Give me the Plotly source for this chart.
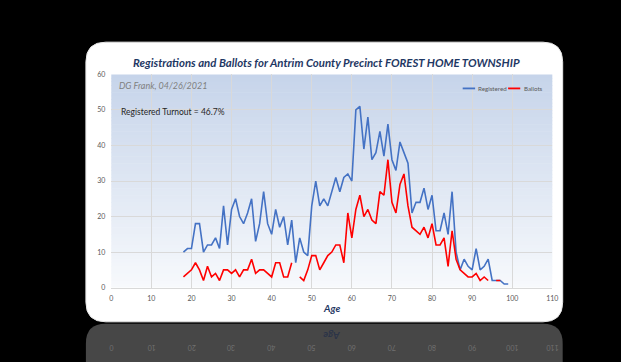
import plotly.graph_objects as go

# Age (years) and counts per age for the precinct
ages = list(range(18, 100))

registered = [10, 11, 11, 18, 18, 10, 12, 12, 14, 11,   # 18-27
              23, 12, 22, 25, 20, 18, 21, 25, 13, 18,   # 28-37
              27, 18, 15, 22, 17, 20, 12, 19, 7, 14,    # 38-47
              10, 9, 23, 30, 23, 25, 23, 27, 31, 27,    # 48-57
              31, 32, 30, 50, 51, 39, 48, 36, 38, 44,   # 58-67
              37, 46, 36, 33, 41, 38, 35, 21, 24, 24,   # 68-77
              28, 22, 26, 16, 16, 21, 15, 27, 10, 5,    # 78-87
              8, 6, 5, 11, 5, 6, 8, 2, 2, 2,            # 88-97
              1, 1]                                     # 98-99

ballots = [3, 4, 5, 7, 5, 2, 6, 3, 4, 2,                # 18-27
           5, 5, 4, 5, 3, 5, 5, 8, 4, 5,                # 28-37
           5, 4, 3, 7, 7, 3, 3, 7, None, 3,             # 38-47
           2, 5, 9, 9, 5, 7, 9, 10, 12, 12,             # 48-57
           7, 21, 14, 22, 26, 20, 22, 19, 18, 27,       # 58-67
           26, 36, 24, 21, 29, 32, 23, 17, 16, 15,      # 68-77
           17, 14, 18, 12, 12, 14, 6, 16, 8, 5,         # 78-87
           4, 3, 3, 4, 2, 3, 2, None, 2, 2,             # 88-97
           None, None]                                  # 98-99

x_ticks = list(range(0, 111, 10))
y_ticks = list(range(0, 61, 10))

title_text = "Registrations and Ballots for Antrim County Precinct FOREST HOME TOWNSHIP"
author_text = "DG Frank, 04/26/2021"
turnout_text = "Registered Turnout = 46.7%"

W, H = 621, 362
FONT = "Lato, 'Open Sans', sans-serif"
BLUE = "#4472c4"
RED = "#ff0000"
NAVY = "#1f3864"
TICK_GRAY = "#595959"


def px(x):
    return x / W


def py(y):
    return 1 - y / H


def rounded_path(x0, y0, x1, y1, r, bottom_round=True):
    """Rounded rectangle in paper coordinates from pixel bounds."""
    p = [f"M {px(x0 + r)} {py(y0)}",
         f"L {px(x1 - r)} {py(y0)}",
         f"Q {px(x1)} {py(y0)} {px(x1)} {py(y0 + r)}"]
    if bottom_round:
        p += [f"L {px(x1)} {py(y1 - r)}",
              f"Q {px(x1)} {py(y1)} {px(x1 - r)} {py(y1)}",
              f"L {px(x0 + r)} {py(y1)}",
              f"Q {px(x0)} {py(y1)} {px(x0)} {py(y1 - r)}"]
    else:
        p += [f"L {px(x1)} {py(y1)}", f"L {px(x0)} {py(y1)}"]
    p += [f"L {px(x0)} {py(y0 + r)}",
          f"Q {px(x0)} {py(y0)} {px(x0 + r)} {py(y0)}", "Z"]
    return " ".join(p)


# plot-area bounds in pixels
PL, PR, PT, PB = 110.7, 557.5, 71.0, 289.0
CARD = (85, 38, 568, 324)

fig = go.Figure()

fig.add_trace(go.Scatter(x=ages, y=registered, name="Registered", mode="lines",
                         line=dict(color=BLUE, width=1.6), showlegend=False))
fig.add_trace(go.Scatter(x=ages, y=ballots, name="Ballots", mode="lines",
                         line=dict(color=RED, width=1.6), showlegend=False))

shapes = []
# reflection strip below the card
shapes.append(dict(type="path", xref="paper", yref="paper", layer="below",
                   path=rounded_path(CARD[0], 326, CARD[2], 372, 20, bottom_round=False),
                   fillcolor="#474747", line=dict(width=0)))
# white card
shapes.append(dict(type="path", xref="paper", yref="paper", layer="below",
                   path=rounded_path(*CARD, 20),
                   fillcolor="#ffffff", line=dict(color="#e6e6e6", width=1)))

# vertical gradient behind the plot area
top_c = (198, 212, 234)
bot_c = (247, 249, 252)
n = 60
for i in range(n):
    t = (i + 0.5) / n
    c = tuple(round(top_c[k] + (bot_c[k] - top_c[k]) * t) for k in range(3))
    y0 = PT + (PB - PT) * i / n
    y1 = PT + (PB - PT) * (i + 1) / n + 0.6
    shapes.append(dict(type="rect", xref="paper", yref="paper", layer="below",
                       x0=px(PL), x1=px(PR), y0=py(min(y1, PB)), y1=py(y0),
                       fillcolor=f"rgb{c}", line=dict(width=0)))

# legend samples
LEG_Y = 85.3
shapes.append(dict(type="line", xref="paper", yref="paper",
                   x0=px(466.7), x1=px(479.3), y0=py(LEG_Y), y1=py(LEG_Y),
                   line=dict(color=BLUE, width=1.8)))
shapes.append(dict(type="line", xref="paper", yref="paper",
                   x0=px(512.7), x1=px(525), y0=py(LEG_Y), y1=py(LEG_Y),
                   line=dict(color=RED, width=1.8)))

annotations = [
    dict(text=author_text, x=px(116.5), y=py(82.3), xref="paper", yref="paper",
         xanchor="left", yanchor="middle", showarrow=False,
         font=dict(family=FONT, size=9, color="#7f7f7f", style="italic")),
    dict(text=turnout_text, x=px(118.5), y=py(109.3), xref="paper", yref="paper",
         xanchor="left", yanchor="middle", showarrow=False,
         font=dict(family=FONT, size=8.5, color="#262626")),
    dict(text="Registered", x=px(480.3), y=py(LEG_Y), xref="paper", yref="paper",
         xanchor="left", yanchor="middle", showarrow=False,
         font=dict(family=FONT, size=6.2, color=TICK_GRAY)),
    dict(text="Ballots", x=px(526.3), y=py(LEG_Y), xref="paper", yref="paper",
         xanchor="left", yanchor="middle", showarrow=False,
         font=dict(family=FONT, size=6.2, color=TICK_GRAY)),
    dict(text="Age", x=px(334), y=py(310), xref="paper", yref="paper",
         xanchor="center", yanchor="middle", showarrow=False,
         font=dict(family=FONT, size=10, color=NAVY, weight="bold", style="italic")),
    # faint mirrored labels in the reflection
    dict(text="Age", x=px(334), y=py(339), xref="paper", yref="paper",
         xanchor="center", yanchor="middle", showarrow=False, textangle=180,
         font=dict(family=FONT, size=10, color="#2b3448", weight="bold", style="italic")),
]
for v in x_ticks:
    annotations.append(dict(text=str(v), x=px(PL + (PR - PL) * v / 110), y=py(351),
                            xref="paper", yref="paper", xanchor="center",
                            yanchor="middle", showarrow=False, textangle=180,
                            font=dict(family=FONT, size=7, color="#707070")))

fig.update_layout(
    width=W, height=H,
    margin=dict(l=0, r=0, t=0, b=0),
    paper_bgcolor="#000000",
    plot_bgcolor="rgba(0,0,0,0)",
    title=dict(text=title_text, x=px(328.5), y=py(59.3), xref="paper", yref="paper",
               xanchor="center", yanchor="middle",
               font=dict(family=FONT, size=11.4, color=NAVY, weight="bold", style="italic")),
    xaxis=dict(domain=[px(PL), px(PR)], range=[0, 110], tickvals=x_ticks,
               showgrid=True, gridcolor="#d9d9d9", gridwidth=1, zeroline=False,
               showline=True, linecolor="#d9d9d9", linewidth=1,
               ticks="", ticklabelstandoff=4,
               tickfont=dict(family=FONT, size=7, color=TICK_GRAY)),
    yaxis=dict(domain=[py(PB), py(PT)], range=[0, 60], tickvals=y_ticks,
               showgrid=True, gridcolor="#d9d9d9", gridwidth=1, zeroline=False,
               showline=False, ticks="", ticklabelstandoff=5,
               tickfont=dict(family=FONT, size=7, color=TICK_GRAY)),
    shapes=shapes,
    annotations=annotations,
    showlegend=False,
)

fig.write_html("out.html")
